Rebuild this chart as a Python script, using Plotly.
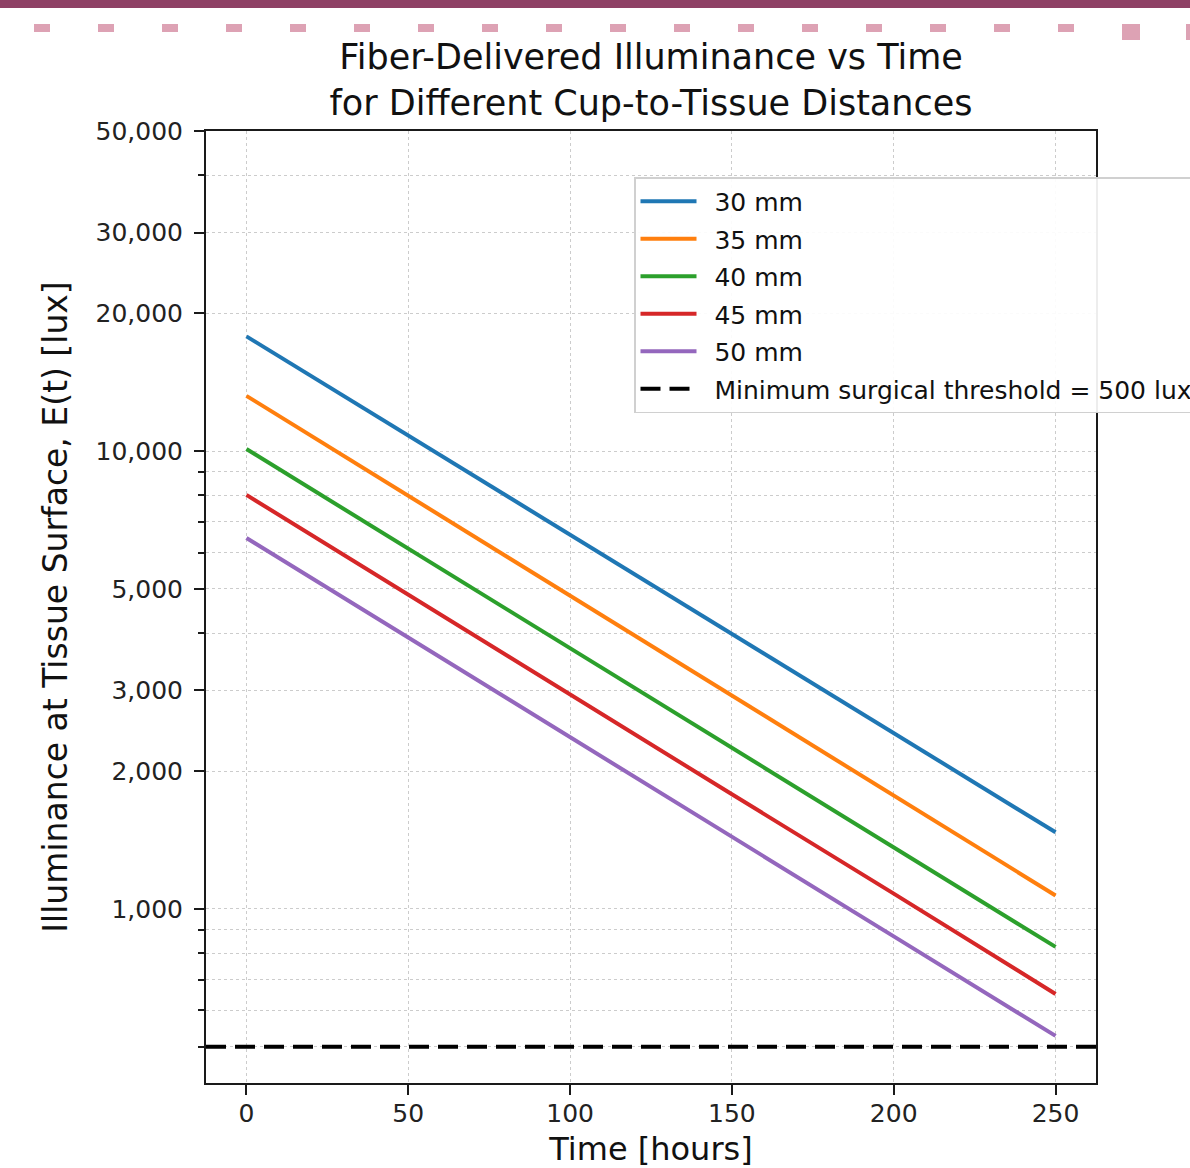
import math
import plotly.graph_objects as go

# ---------------- data ----------------
time_hours = [0, 50, 100, 150, 200, 250]
series_names = ["30 mm", "35 mm", "40 mm", "45 mm", "50 mm"]
illum_30mm = [17800, 10800, 6560, 3980, 2420, 1470]
illum_35mm = [13200, 7980, 4830, 2930, 1770, 1070]
illum_40mm = [10100, 6120, 3710, 2250, 1360, 826]
illum_45mm = [8020, 4850, 2940, 1780, 1080, 652]
illum_50mm = [6460, 3920, 2370, 1440, 871, 528]
threshold_lux = 500
threshold_label = "Minimum surgical threshold = 500 lux"
x_limits = [-12.5, 262.5]
y_limits = [500 / 1.2, 50000]

x_tickvals = [0, 50, 100, 150, 200, 250]
y_tickvals = [1000, 2000, 3000, 5000, 10000, 20000, 30000, 50000]
y_ticktext = ["1,000", "2,000", "3,000", "5,000", "10,000", "20,000", "30,000", "50,000"]
y_minor_vals = [500, 600, 700, 800, 900, 4000, 6000, 7000, 8000, 9000, 40000]

colors = ["#1f77b4", "#ff7f0e", "#2ca02c", "#d62728", "#9467bd"]
series_values = [illum_30mm, illum_35mm, illum_40mm, illum_45mm, illum_50mm]

# ---------------- layout geometry (px) ----------------
W, H = 1190, 1168
L, R, T, B = 206, 1096, 131, 1083
FONT = "DejaVu Sans"
LEG_PAD = "\u00a0\u2009"  # small gap between legend sample and label


def px_x(px):
    return (px - L) / (R - L)


def px_y(py):
    return (B - py) / (B - T)


fig = go.Figure()

for name, vals, col in zip(series_names, series_values, colors):
    fig.add_trace(go.Scatter(
        x=time_hours, y=vals, mode="lines", name=LEG_PAD + name,
        line=dict(color=col, width=4), legendgroup=name,
    ))

fig.add_trace(go.Scatter(
    x=x_limits, y=[threshold_lux, threshold_lux], mode="lines",
    name=LEG_PAD + threshold_label, legendgroup="thr",
    line=dict(color="black", width=4, dash="20px,9px"),
))

axis_common = dict(
    showline=True, linecolor="#1a1a1a", linewidth=2, mirror=True,
    ticks="outside", ticklen=10, tickwidth=2, tickcolor="#1a1a1a",
    showgrid=True, gridcolor="#cccccc", gridwidth=1, griddash="dot",
    zeroline=False,
)

fig.update_xaxes(
    **axis_common, range=x_limits, tickmode="array", tickvals=x_tickvals,
    tickfont=dict(family=FONT, size=25, color="#222"),
    ticklabelstandoff=-3,
    title=dict(text="Time [hours]", font=dict(family=FONT, size=32, color="#111"), standoff=19),
)

fig.update_yaxes(
    **axis_common, type="log",
    range=[math.log10(y_limits[0]), math.log10(y_limits[1])],
    tickmode="array", tickvals=y_tickvals, ticktext=y_ticktext,
    tickfont=dict(family=FONT, size=25, color="#222"),
    ticklabelstandoff=6,
    minor=dict(tickmode="array", tickvals=y_minor_vals, ticks="outside", ticklen=6,
               tickwidth=1.5, tickcolor="#1a1a1a", showgrid=True,
               gridcolor="#cccccc", gridwidth=1, griddash="dot"),
    title=dict(text="Illuminance at Tissue Surface, E(t) [lux]",
               font=dict(family=FONT, size=33, color="#111"), standoff=18),
)

shapes = [
    # top maroon band
    dict(type="rect", xref="paper", yref="paper", x0=px_x(0), x1=px_x(W),
         y0=px_y(8), y1=px_y(0), fillcolor="#8e4165", line=dict(width=0), layer="above"),
    # pink dashed row
    dict(type="line", xref="paper", yref="paper", x0=px_x(34), x1=px_x(1080),
         y0=px_y(28), y1=px_y(28), line=dict(color="#dda2b4", width=8, dash="16px,48px")),
    dict(type="rect", xref="paper", yref="paper", x0=px_x(1122), x1=px_x(1140),
         y0=px_y(40), y1=px_y(24), fillcolor="#dda2b4", line=dict(width=0)),
    dict(type="rect", xref="paper", yref="paper", x0=px_x(1186), x1=px_x(1192),
         y0=px_y(40), y1=px_y(24), fillcolor="#dda2b4", line=dict(width=0)),
]

fig.update_layout(
    width=W, height=H,
    margin=dict(l=L, r=W - R, t=T, b=H - B, autoexpand=False),
    paper_bgcolor="white", plot_bgcolor="white",
    font=dict(family=FONT, color="#111"),
    title=dict(text="Fiber-Delivered Illuminance vs Time<br>for Different Cup-to-Tissue Distances",
               x=(L + R) / 2 / W, xanchor="center",
               y=1 - 69 / H, yanchor="top",
               font=dict(family=FONT, size=35, color="#111")),
    legend=dict(x=px_x(634), y=px_y(177), xanchor="left", yanchor="top",
                bgcolor="rgba(255,255,255,0.92)", bordercolor="#d0d0d0", borderwidth=1.5,
                font=dict(family=FONT, size=25, color="#111"),
                itemwidth=56, tracegroupgap=2),
    shapes=shapes,
    showlegend=True,
)

fig.write_html("out.html",
               config={"displayModeBar": False},
               post_script="document.body.style.margin='0';document.body.style.overflow='hidden';")
